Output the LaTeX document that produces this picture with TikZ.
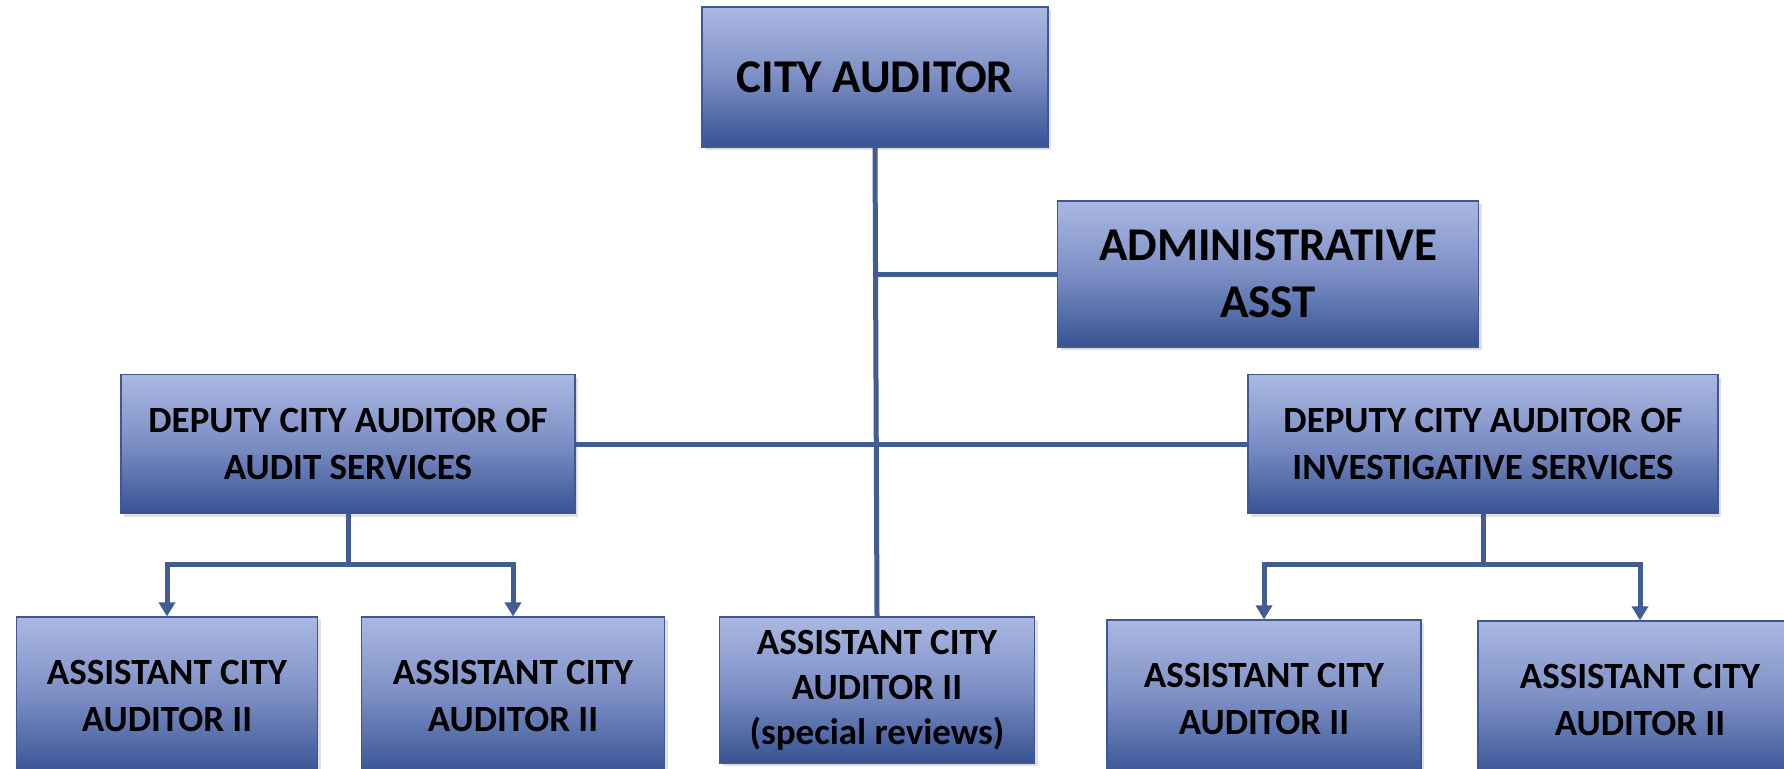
\documentclass[tikz,border=0pt]{standalone}
\usepackage{fontspec}
\setmainfont{Carlito}
\usetikzlibrary{arrows.meta,shadows}

\definecolor{boxtop}{RGB}{170,184,226}
\definecolor{boxmid}{RGB}{124,142,196}
\definecolor{boxbot}{RGB}{54,83,148}
\definecolor{boxedge}{RGB}{62,88,148}
\definecolor{linkblue}{RGB}{66,92,148}

\tikzset{
    orgbox/.style={draw=boxedge, line width=1.2pt, top color=boxtop, bottom color=boxbot, middle color=boxmid,
        align=center, inner sep=0pt, font=\bfseries\fontsize{37}{47}\selectfont,
        drop shadow={shadow xshift=3pt, shadow yshift=-3pt, opacity=0.25}},
    bigbox/.style={orgbox, font=\bfseries\fontsize{47}{57}\selectfont},
    link/.style={draw=linkblue, line width=5pt},
    arrowlink/.style={link, -{Triangle[width=16pt,length=14pt]}}
}

\begin{document}
\begin{tikzpicture}[x=1pt, y=-1pt]
        % 1. Page frame
        \path[use as bounding box, fill=white] (0,0) rectangle (1784,768);

        % 2. Define the boxes (Nodes)
        % Top
        \node[bigbox, minimum width=346, minimum height=140] (city) at (875,77) {CITY AUDITOR};
        \node[bigbox, minimum width=421, minimum height=146] (admin) at (1268,274) {ADMINISTRATIVE\\ASST};

        % Deputies
        \node[orgbox, minimum width=454, minimum height=139] (depL) at (348,444) {DEPUTY CITY AUDITOR OF\\AUDIT SERVICES};
        \node[orgbox, minimum width=470, minimum height=139] (depR) at (1483,444) {DEPUTY CITY AUDITOR OF\\INVESTIGATIVE SERVICES};

        % Bottom row (runs off the page)
        \node[orgbox, minimum width=301, minimum height=158] (a1) at (167,696) {ASSISTANT CITY\\AUDITOR II};
        \node[orgbox, minimum width=303, minimum height=158] (a2) at (513,696) {ASSISTANT CITY\\AUDITOR II};
        \node[orgbox, minimum width=315, minimum height=146, font=\bfseries\fontsize{37}{45}\selectfont] (spec) at (877,690) {ASSISTANT CITY\\AUDITOR II\\(special reviews)};
        \node[orgbox, minimum width=314, minimum height=158] (a4) at (1264,699) {ASSISTANT CITY\\AUDITOR II};
        \node[orgbox, minimum width=324, minimum height=158] (a5) at (1640,700) {ASSISTANT CITY\\AUDITOR II};

        % 3. Draw the connectors (Lines)
        \begin{scope}
            % Main spine from the top box down to the centre box
            \draw[link] (city.south) -- (spec.north);
            \draw[link] (city.south |- admin.west) -- (admin.west);
            \draw[link] (depL.east) -- (depR.west);

            % Drops under each deputy
            \draw[arrowlink] (depL.south) -- ++(0,50) -| (a1.north);
            \draw[arrowlink] (depL.south) -- ++(0,50) -| (a2.north);
            \draw[arrowlink] (depR.south) -- ++(0,50) -| (a4.north);
            \draw[arrowlink] (depR.south) -- ++(0,50) -| (a5.north);
        \end{scope}

    \end{tikzpicture}
\end{document}
